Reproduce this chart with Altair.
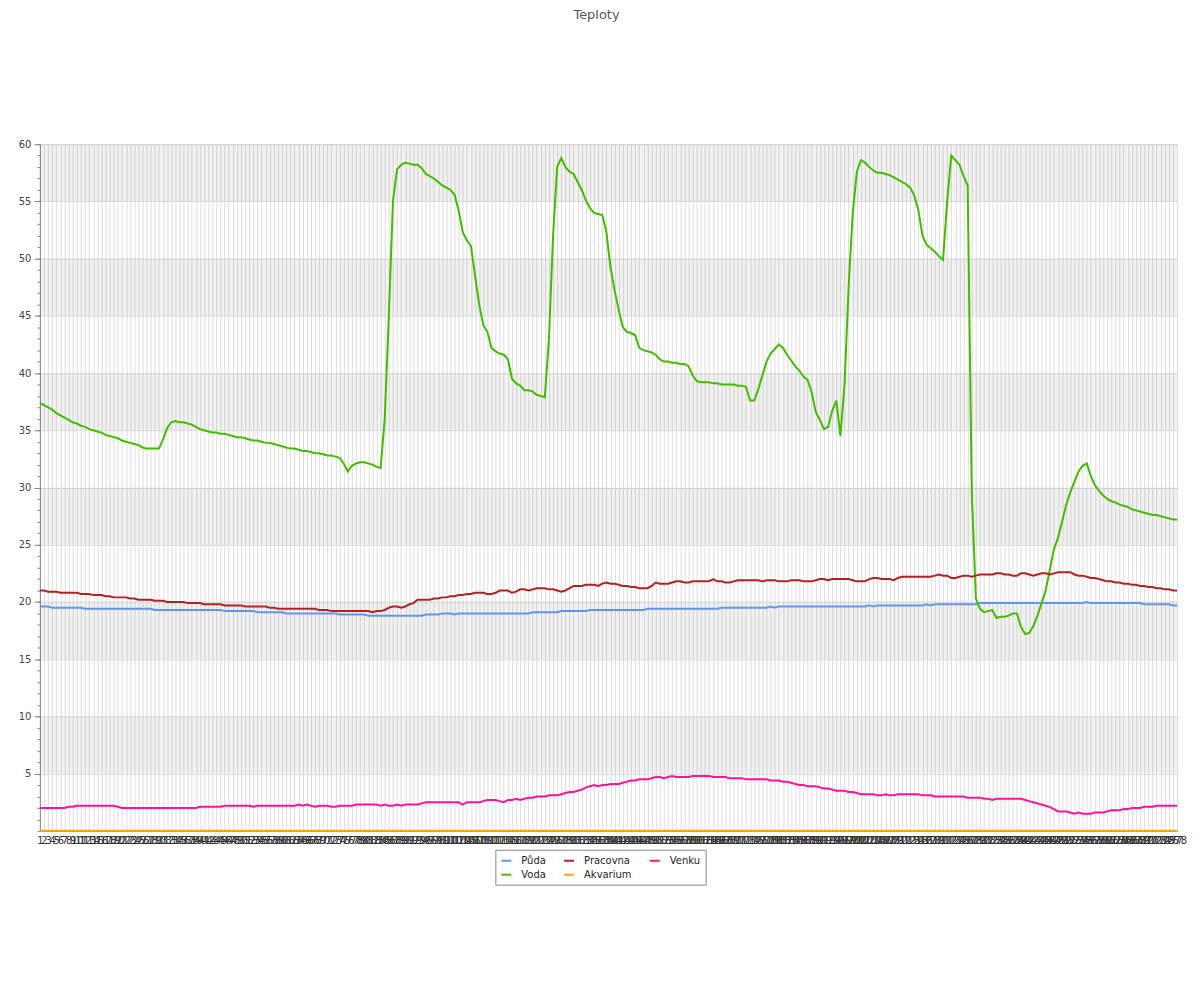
import altair as alt
import pandas as pd

# ---- data -------------------------------------------------------------
labels = [str(i) for i in range(1, 279)]

puda = [
    19.6, 19.6, 19.6, 19.5, 19.5, 19.5, 19.5, 19.5, 19.5, 19.5,
    19.5, 19.4, 19.4, 19.4, 19.4, 19.4, 19.4, 19.4, 19.4, 19.4,
    19.4, 19.4, 19.4, 19.4, 19.4, 19.4, 19.4, 19.4, 19.3, 19.3,
    19.3, 19.3, 19.3, 19.3, 19.3, 19.3, 19.3, 19.3, 19.3, 19.3,
    19.3, 19.3, 19.3, 19.3, 19.3, 19.2, 19.2, 19.2, 19.2, 19.2,
    19.2, 19.2, 19.2, 19.1, 19.1, 19.1, 19.1, 19.1, 19.1, 19.1,
    19.0, 19.0, 19.0, 19.0, 19.0, 19.0, 19.0, 19.0, 19.0, 19.0,
    19.0, 19.0, 19.0, 18.9, 18.9, 18.9, 18.9, 18.9, 18.9, 18.9,
    18.8, 18.8, 18.8, 18.8, 18.8, 18.8, 18.8, 18.8, 18.8, 18.8,
    18.8, 18.8, 18.8, 18.8, 18.9, 18.9, 18.9, 18.9, 19.0, 19.0,
    19.0, 18.9, 19.0, 19.0, 19.0, 19.0, 19.0, 19.0, 19.0, 19.0,
    19.0, 19.0, 19.0, 19.0, 19.0, 19.0, 19.0, 19.0, 19.0, 19.0,
    19.1, 19.1, 19.1, 19.1, 19.1, 19.1, 19.1, 19.2, 19.2, 19.2,
    19.2, 19.2, 19.2, 19.2, 19.3, 19.3, 19.3, 19.3, 19.3, 19.3,
    19.3, 19.3, 19.3, 19.3, 19.3, 19.3, 19.3, 19.3, 19.4, 19.4,
    19.4, 19.4, 19.4, 19.4, 19.4, 19.4, 19.4, 19.4, 19.4, 19.4,
    19.4, 19.4, 19.4, 19.4, 19.4, 19.4, 19.5, 19.5, 19.5, 19.5,
    19.5, 19.5, 19.5, 19.5, 19.5, 19.5, 19.5, 19.5, 19.6, 19.5,
    19.6, 19.6, 19.6, 19.6, 19.6, 19.6, 19.6, 19.6, 19.6, 19.6,
    19.6, 19.6, 19.6, 19.6, 19.6, 19.6, 19.6, 19.6, 19.6, 19.6,
    19.6, 19.6, 19.7, 19.6, 19.7, 19.7, 19.7, 19.7, 19.7, 19.7,
    19.7, 19.7, 19.7, 19.7, 19.7, 19.7, 19.8, 19.7, 19.8, 19.8,
    19.8, 19.8, 19.8, 19.8, 19.8, 19.8, 19.8, 19.8, 19.8, 19.9,
    19.9, 19.9, 19.9, 19.9, 19.9, 19.9, 19.9, 19.9, 19.9, 19.9,
    19.9, 19.9, 19.9, 19.9, 19.9, 19.9, 19.9, 19.9, 19.9, 19.9,
    19.9, 19.9, 19.9, 19.9, 19.9, 20.0, 19.9, 19.9, 19.9, 19.9,
    19.9, 19.9, 19.9, 19.9, 19.9, 19.9, 19.9, 19.9, 19.9, 19.8,
    19.8, 19.8, 19.8, 19.8, 19.8, 19.8, 19.7, 19.7,
]

voda = [
    37.4, 37.2, 37.0, 36.8, 36.5, 36.3, 36.1, 35.9, 35.7, 35.6,
    35.4, 35.3, 35.1, 35.0, 34.9, 34.8, 34.6, 34.5, 34.4, 34.3,
    34.1, 34.0, 33.9, 33.8, 33.7, 33.5, 33.4, 33.4, 33.4, 33.4,
    34.2, 35.2, 35.7, 35.8, 35.7, 35.7, 35.6, 35.5, 35.3, 35.1,
    35.0, 34.9, 34.8, 34.8, 34.7, 34.7, 34.6, 34.5, 34.4, 34.4,
    34.3, 34.2, 34.1, 34.1, 34.0, 33.9, 33.9, 33.8, 33.7, 33.6,
    33.5, 33.4, 33.4, 33.3, 33.2, 33.2, 33.1, 33.0, 33.0, 32.9,
    32.8, 32.8, 32.7, 32.6, 32.1, 31.4, 31.9, 32.1, 32.2, 32.2,
    32.1, 32.0, 31.8, 31.7, 36.0, 45.0, 55.0, 57.8, 58.2, 58.4,
    58.3, 58.2, 58.2, 57.9, 57.4, 57.2, 57.0, 56.7, 56.4, 56.2,
    56.0, 55.6, 54.2, 52.3, 51.6, 51.1, 48.5, 46.0, 44.2, 43.6,
    42.2, 41.9, 41.7, 41.6, 41.2, 39.5, 39.1, 38.9, 38.5, 38.5,
    38.4, 38.1, 38.0, 37.9, 43.0, 52.0, 58.0, 58.8, 58.0, 57.6,
    57.4, 56.7, 56.0, 55.1, 54.4, 54.0, 53.9, 53.8, 52.3, 49.2,
    47.2, 45.5, 44.0, 43.6, 43.5, 43.3, 42.2, 42.0, 41.9, 41.8,
    41.6, 41.2, 41.0, 41.0, 40.9, 40.9, 40.8, 40.8, 40.6, 39.8,
    39.3, 39.2, 39.2, 39.2, 39.1, 39.1, 39.0, 39.0, 39.0, 39.0,
    38.9, 38.9, 38.8, 37.6, 37.6, 38.6, 39.8, 41.0, 41.7, 42.1,
    42.5, 42.2, 41.6, 41.1, 40.6, 40.2, 39.7, 39.4, 38.3, 36.6,
    35.9, 35.1, 35.3, 36.7, 37.6, 34.5, 39.0, 47.5, 54.0, 57.6,
    58.6, 58.4, 58.0, 57.7, 57.5, 57.5, 57.4, 57.3, 57.1, 56.9,
    56.7, 56.5, 56.2, 55.5, 54.2, 52.0, 51.2, 50.9, 50.6, 50.2,
    49.9, 55.0, 59.0, 58.6, 58.2, 57.2, 56.4, 29.5, 20.3, 19.4,
    19.1, 19.2, 19.3, 18.6, 18.7, 18.7, 18.8, 19.0, 19.0, 17.8,
    17.2, 17.3, 17.9, 18.8, 19.9, 21.0, 22.8, 24.6, 25.6, 27.0,
    28.5, 29.6, 30.5, 31.4, 31.9, 32.1, 31.0, 30.2, 29.7, 29.3,
    29.0, 28.8, 28.7, 28.5, 28.4, 28.3, 28.1, 28.0, 27.9, 27.8,
    27.7, 27.6, 27.6, 27.5, 27.4, 27.3, 27.2, 27.2,
]

pracovna = [
    21.0, 21.0, 20.9, 20.9, 20.9, 20.8, 20.8, 20.8, 20.8, 20.8,
    20.7, 20.7, 20.7, 20.6, 20.6, 20.6, 20.5, 20.5, 20.4, 20.4,
    20.4, 20.4, 20.3, 20.3, 20.2, 20.2, 20.2, 20.2, 20.1, 20.1,
    20.1, 20.0, 20.0, 20.0, 20.0, 20.0, 19.9, 19.9, 19.9, 19.9,
    19.8, 19.8, 19.8, 19.8, 19.8, 19.7, 19.7, 19.7, 19.7, 19.7,
    19.6, 19.6, 19.6, 19.6, 19.6, 19.6, 19.5, 19.5, 19.4, 19.4,
    19.4, 19.4, 19.4, 19.4, 19.4, 19.4, 19.4, 19.4, 19.3, 19.3,
    19.3, 19.2, 19.2, 19.2, 19.2, 19.2, 19.2, 19.2, 19.2, 19.2,
    19.2, 19.1, 19.2, 19.2, 19.3, 19.5, 19.6, 19.6, 19.5, 19.6,
    19.8, 19.9, 20.2, 20.2, 20.2, 20.2, 20.3, 20.3, 20.4, 20.4,
    20.5, 20.5, 20.6, 20.6, 20.7, 20.7, 20.8, 20.8, 20.8, 20.7,
    20.7, 20.8, 21.0, 21.0, 21.0, 20.8, 20.9, 21.1, 21.1, 21.0,
    21.1, 21.2, 21.2, 21.2, 21.1, 21.1, 21.0, 20.9, 21.0, 21.2,
    21.4, 21.4, 21.4, 21.5, 21.5, 21.5, 21.4, 21.6, 21.7, 21.6,
    21.6, 21.5, 21.4, 21.4, 21.3, 21.3, 21.2, 21.2, 21.2, 21.4,
    21.7, 21.6, 21.6, 21.6, 21.7, 21.8, 21.8, 21.7, 21.7, 21.8,
    21.8, 21.8, 21.8, 21.8, 22.0, 21.8, 21.8, 21.7, 21.7, 21.8,
    21.9, 21.9, 21.9, 21.9, 21.9, 21.9, 21.8, 21.9, 21.9, 21.9,
    21.8, 21.8, 21.8, 21.9, 21.9, 21.9, 21.8, 21.8, 21.8, 21.9,
    22.0, 22.0, 21.9, 22.0, 22.0, 22.0, 22.0, 22.0, 21.9, 21.8,
    21.8, 21.8, 22.0, 22.1, 22.1, 22.0, 22.0, 22.0, 21.9, 22.1,
    22.2, 22.2, 22.2, 22.2, 22.2, 22.2, 22.2, 22.2, 22.3, 22.4,
    22.3, 22.3, 22.1, 22.1, 22.2, 22.3, 22.3, 22.2, 22.3, 22.4,
    22.4, 22.4, 22.4, 22.5, 22.5, 22.4, 22.4, 22.3, 22.3, 22.5,
    22.5, 22.4, 22.3, 22.4, 22.5, 22.5, 22.4, 22.5, 22.6, 22.6,
    22.6, 22.6, 22.4, 22.3, 22.3, 22.2, 22.1, 22.1, 22.0, 21.9,
    21.8, 21.8, 21.7, 21.7, 21.6, 21.6, 21.5, 21.5, 21.4, 21.4,
    21.3, 21.3, 21.2, 21.2, 21.1, 21.1, 21.0, 21.0,
]

akvarium = [0.0] * 278

venku = [
    2.0, 2.0, 2.0, 2.0, 2.0, 2.0, 2.0, 2.1, 2.1, 2.2,
    2.2, 2.2, 2.2, 2.2, 2.2, 2.2, 2.2, 2.2, 2.2, 2.1,
    2.0, 2.0, 2.0, 2.0, 2.0, 2.0, 2.0, 2.0, 2.0, 2.0,
    2.0, 2.0, 2.0, 2.0, 2.0, 2.0, 2.0, 2.0, 2.0, 2.1,
    2.1, 2.1, 2.1, 2.1, 2.1, 2.2, 2.2, 2.2, 2.2, 2.2,
    2.2, 2.2, 2.1, 2.2, 2.2, 2.2, 2.2, 2.2, 2.2, 2.2,
    2.2, 2.2, 2.2, 2.3, 2.2, 2.3, 2.2, 2.1, 2.2, 2.2,
    2.2, 2.1, 2.1, 2.2, 2.2, 2.2, 2.2, 2.3, 2.3, 2.3,
    2.3, 2.3, 2.3, 2.2, 2.3, 2.2, 2.2, 2.3, 2.2, 2.3,
    2.3, 2.3, 2.3, 2.4, 2.5, 2.5, 2.5, 2.5, 2.5, 2.5,
    2.5, 2.5, 2.5, 2.3, 2.5, 2.5, 2.5, 2.5, 2.6, 2.7,
    2.7, 2.7, 2.6, 2.5, 2.7, 2.7, 2.8, 2.7, 2.8, 2.9,
    2.9, 3.0, 3.0, 3.0, 3.1, 3.1, 3.1, 3.2, 3.3, 3.4,
    3.4, 3.5, 3.6, 3.8, 3.9, 4.0, 3.9, 4.0, 4.0, 4.1,
    4.1, 4.1, 4.2, 4.3, 4.4, 4.4, 4.5, 4.5, 4.5, 4.6,
    4.7, 4.7, 4.6, 4.7, 4.8, 4.7, 4.7, 4.7, 4.7, 4.8,
    4.8, 4.8, 4.8, 4.8, 4.7, 4.7, 4.7, 4.7, 4.6, 4.6,
    4.6, 4.6, 4.5, 4.5, 4.5, 4.5, 4.5, 4.5, 4.4, 4.4,
    4.4, 4.3, 4.3, 4.2, 4.1, 4.0, 4.0, 3.9, 3.9, 3.9,
    3.8, 3.7, 3.7, 3.6, 3.5, 3.5, 3.5, 3.4, 3.4, 3.3,
    3.2, 3.2, 3.2, 3.2, 3.1, 3.1, 3.2, 3.1, 3.1, 3.2,
    3.2, 3.2, 3.2, 3.2, 3.2, 3.1, 3.1, 3.1, 3.0, 3.0,
    3.0, 3.0, 3.0, 3.0, 3.0, 3.0, 2.9, 2.9, 2.9, 2.9,
    2.8, 2.8, 2.7, 2.8, 2.8, 2.8, 2.8, 2.8, 2.8, 2.8,
    2.7, 2.6, 2.5, 2.4, 2.3, 2.2, 2.1, 1.9, 1.7, 1.7,
    1.7, 1.6, 1.5, 1.6, 1.5, 1.5, 1.5, 1.6, 1.6, 1.6,
    1.7, 1.8, 1.8, 1.8, 1.9, 1.9, 2.0, 2.0, 2.0, 2.1,
    2.1, 2.1, 2.2, 2.2, 2.2, 2.2, 2.2, 2.2,
]

series_names = ["Půda", "Voda", "Pracovna", "Akvarium", "Venku"]
series_values = [puda, voda, pracovna, akvarium, venku]
series_colors = ["#6495ED", "#44BB00", "#B22222", "#FFA500", "#FF1493"]

band_lo = [5, 15, 25, 35, 45, 55]
band_hi = [10, 20, 30, 40, 50, 60]
y_labels = [5, 10, 15, 20, 25, 30, 35, 40, 45, 50, 55, 60]
y_minor = list(range(0, 61))

# ---- tables -----------------------------------------------------------
rows = []
for name, vals in zip(series_names, series_values):
    for lab, v in zip(labels, vals):
        rows.append({"t": lab, "serie": name, "teplota": v})
df = pd.DataFrame(rows)
bands = pd.DataFrame({"lo": band_lo, "hi": band_hi})

FONT = "DejaVu Sans"

bands_layer = alt.Chart(bands).mark_rect(color="#000000", opacity=0.052).encode(
    x=alt.value(0),
    x2=alt.value("width"),
    y=alt.Y(
        "lo:Q",
        scale=alt.Scale(domain=[0, 60], nice=False, zero=False),
        axis=alt.Axis(
            values=y_minor, labels=False, grid=False, domain=False,
            tickSize=3, tickColor="#888888", title=None, orient="left",
        ),
    ),
    y2="hi:Q",
)

lines = alt.Chart(df).mark_line(strokeWidth=2).encode(
    x=alt.X(
        "t:O",
        sort=labels,
        scale=alt.Scale(type="point", padding=0),
        axis=alt.Axis(
            title=None, labelAngle=0, labelOverlap=False, labelFontSize=10,
            labelFont=FONT, labelColor="#333333", grid=True, gridColor="#dddddd",
            ticks=False, domainColor="#888888", labelPadding=5,
        ),
    ),
    y=alt.Y(
        "teplota:Q",
        scale=alt.Scale(domain=[0, 60], nice=False, zero=False),
        axis=alt.Axis(
            title=None, values=y_labels, grid=True, gridColor="#dddddd",
            labelFontSize=10, labelFont=FONT, labelColor="#444444",
            tickSize=6, tickColor="#888888", domainColor="#888888",
            labelPadding=3, orient="left",
        ),
    ),
    color=alt.Color(
        "serie:N",
        scale=alt.Scale(domain=series_names, range=series_colors),
        legend=alt.Legend(
            title=None, orient="none", legendX=457, legendY=708, columns=3,
            symbolType="stroke", symbolStrokeWidth=2, symbolSize=100,
            labelFont=FONT, labelFontSize=10, labelColor="#222222",
            strokeColor="#888888", fillColor="#ffffff", padding=5,
            columnPadding=14, rowPadding=3, labelOffset=9,
        ),
    ),
    detail="serie:N",
)

chart = (
    alt.layer(bands_layer, lines)
    .resolve_scale(y="independent")
    .properties(
        width=1141,
        height=689,
        autosize=alt.AutoSizeParams(type="none"),
        padding={"left": 32, "top": 135, "right": 15, "bottom": 140},
        title=alt.TitleParams(
            "Teploty", fontSize=13, font=FONT, fontWeight="normal",
            color="#555555", anchor="middle", offset=118, dx=-12,
        ),
    )
    .configure_view(stroke=None)
    .configure(background="white")
)

chart.save("out.html", embed_options={"renderer": "svg", "actions": False})
